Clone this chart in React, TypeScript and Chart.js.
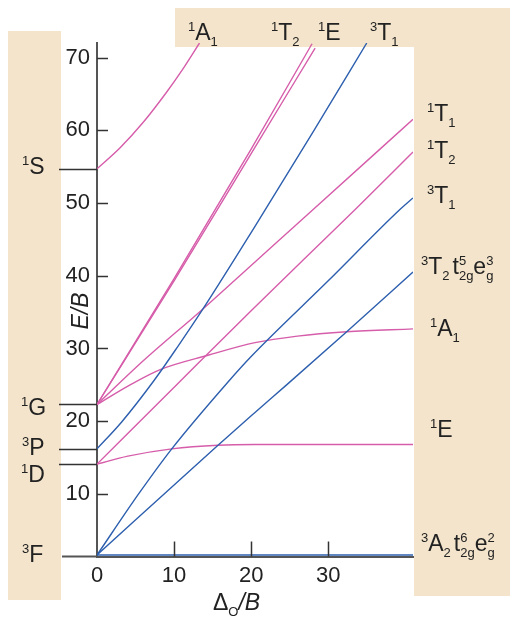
import React, { useEffect, useRef } from 'react';
import { Chart, registerables } from 'chart.js';

Chart.register(...registerables);

const FONT = '"Liberation Sans", Arial, Helvetica, sans-serif';
const PINK = '#D65DAA';
const BLUE = '#2D5FAE';
const BEIGE = '#F3E4CB';
const AXIS = '#555555';
const TEXT = '#222222';

// Axis ticks
const xTicks = [0, 10, 20, 30];
const yTicks = [10, 20, 30, 40, 50, 60, 70];

// Free-ion term energies (E/B) at Δo/B = 0
const termNames = ['1S', '1G', '3P', '1D', '3F'];
const termEnergies = [54.7, 22.3, 16.2, 14.1, 1.6];

// Triplet states (blue)
const t3A2X = [0, 41];
const t3A2Y = [1.6, 1.6];
const t3T2X = [0, 15.7, 20.5, 24.6, 32.4, 41];
const t3T2Y = [1.6, 16.7, 21.2, 25.0, 32.3, 40.5];
const t3T1FX = [0, 5.4, 9.7, 17, 20, 30, 39.3, 41];
const t3T1FY = [1.6, 10, 16.2, 25.4, 28.9, 39.3, 49.1, 50.7];
const t3T1PX = [0, 3.2, 7.4, 10.5, 13.6, 20.5, 28, 35];
const t3T1PY = [16.2, 19.9, 25.6, 30.3, 35.2, 46.8, 59.7, 72];

// Singlet states (pink)
const s1A1SX = [0, 3, 6, 9, 11, 13.3];
const s1A1SY = [54.7, 57.6, 61.1, 65.2, 68.2, 72];
const s1E_DX = [0, 4, 9.7, 15.7, 20.5, 30, 41];
const s1E_DY = [14.1, 15.2, 16.2, 16.7, 16.8, 16.8, 16.8];
const s1T2DX = [0, 10.5, 20, 33.5, 41];
const s1T2DY = [14.1, 25.2, 35.2, 49.1, 57.0];
const s1A1GX = [0, 4.3, 8.2, 14.5, 20.5, 26, 32.4, 41];
const s1A1GY = [22.3, 25.0, 27.1, 29.1, 30.8, 31.7, 32.3, 32.7];
const s1T1GX = [0, 6, 13.6, 20.5, 27.4, 41];
const s1T1GY = [22.3, 28.3, 35.3, 41.9, 48.5, 61.5];
const s1T2GX = [0, 10, 20, 27.9];
const s1T2GY = [22.3, 39.6, 57.4, 71.9];
const s1E_GX = [0, 10, 20, 28.3];
const s1E_GY = [22.3, 39.3, 56.8, 71.3];

type Part = { t: string; k?: 'sup' | 'sub' | 'ss'; s?: string; it?: boolean; gap?: number };

const sup = (t: string): Part => ({ t, k: 'sup' });
const sub = (t: string): Part => ({ t, k: 'sub' });
const n = (t: string): Part => ({ t });
const ss = (t: string, s: string): Part => ({ t, s, k: 'ss' });
const gap = (g: number): Part => ({ t: '', gap: g });

function drawRich(ctx: CanvasRenderingContext2D, x: number, y: number, parts: Part[], size = 23) {
  const small = Math.round(size * 0.56);
  let cx = x;
  ctx.textAlign = 'left';
  ctx.textBaseline = 'alphabetic';
  ctx.fillStyle = TEXT;
  for (const p of parts) {
    if (p.gap) {
      cx += p.gap;
      continue;
    }
    if (!p.k) {
      ctx.font = `${p.it ? 'italic ' : ''}${size}px ${FONT}`;
      ctx.fillText(p.t, cx, y);
      cx += ctx.measureText(p.t).width;
    } else if (p.k === 'sup') {
      ctx.font = `${small}px ${FONT}`;
      ctx.fillText(p.t, cx, y - size * 0.4);
      cx += ctx.measureText(p.t).width;
    } else if (p.k === 'sub') {
      ctx.font = `${small}px ${FONT}`;
      ctx.fillText(p.t, cx, y + size * 0.27);
      cx += ctx.measureText(p.t).width;
    } else {
      ctx.font = `${small}px ${FONT}`;
      ctx.fillText(p.t, cx, y - size * 0.4);
      ctx.fillText(p.s || '', cx, y + size * 0.27);
      cx += Math.max(ctx.measureText(p.t).width, ctx.measureText(p.s || '').width);
    }
  }
}

const leftLabels: { parts: Part[]; x: number; y: number }[] = [
  { parts: [sup('1'), n('S')], x: 22, y: 174 },
  { parts: [sup('1'), n('G')], x: 21, y: 415 },
  { parts: [sup('3'), n('P')], x: 22, y: 455 },
  { parts: [sup('1'), n('D')], x: 21, y: 482 },
  { parts: [sup('3'), n('F')], x: 22, y: 562 },
];

const rightLabels: { parts: Part[]; x: number; y: number }[] = [
  { parts: [sup('1'), n('T'), sub('1')], x: 427, y: 121 },
  { parts: [sup('1'), n('T'), sub('2')], x: 427, y: 158 },
  { parts: [sup('3'), n('T'), sub('1')], x: 427, y: 203 },
  { parts: [sup('3'), n('T'), sub('2'), gap(3), n('t'), ss('5', '2g'), n('e'), ss('3', 'g')], x: 421, y: 274 },
  { parts: [sup('1'), n('A'), sub('1')], x: 430, y: 336 },
  { parts: [sup('1'), n('E')], x: 430, y: 437 },
  { parts: [sup('3'), n('A'), sub('2'), gap(3), n('t'), ss('6', '2g'), n('e'), ss('2', 'g')], x: 421, y: 551 },
];

const topLabels: { parts: Part[]; x: number; y: number }[] = [
  { parts: [sup('1'), n('A'), sub('1')], x: 188, y: 40 },
  { parts: [sup('1'), n('T'), sub('2')], x: 271, y: 40 },
  { parts: [sup('1'), n('E')], x: 318, y: 40 },
  { parts: [sup('3'), n('T'), sub('1')], x: 370, y: 40 },
];

const pts = (xs: number[], ys: number[]) => xs.map((x, i) => ({ x, y: ys[i] }));

const line = (data: { x: number; y: number }[], color: string) => ({
  data,
  borderColor: color,
  borderWidth: 1.4,
  pointRadius: 0,
  fill: false,
  cubicInterpolationMode: 'monotone' as const,
});

const decoPlugin = {
  id: 'deco',
  beforeDraw(chart: any) {
    const ctx: CanvasRenderingContext2D = chart.ctx;
    ctx.save();
    ctx.fillStyle = BEIGE;
    ctx.fillRect(8, 31, 53, 569);
    ctx.fillRect(175, 8, 335, 39);
    ctx.fillRect(414, 8, 96, 588);
    ctx.restore();
  },
  afterDraw(chart: any) {
    const ctx: CanvasRenderingContext2D = chart.ctx;
    const xs = chart.scales.x;
    const ys = chart.scales.y;
    const area = chart.chartArea;
    ctx.save();
    // inward tick marks
    ctx.strokeStyle = '#333';
    ctx.lineWidth = 1.5;
    for (const v of yTicks) {
      const py = Math.round(ys.getPixelForValue(v)) + 0.5;
      ctx.beginPath();
      ctx.moveTo(area.left, py);
      ctx.lineTo(area.left + 11, py);
      ctx.stroke();
    }
    for (const v of xTicks) {
      if (v === 0) continue;
      const px = Math.round(xs.getPixelForValue(v)) + 0.5;
      ctx.beginPath();
      ctx.moveTo(px, area.bottom);
      ctx.lineTo(px, area.bottom - 15);
      ctx.stroke();
    }
    // free-ion term level lines
    termEnergies.forEach((e, i) => {
      if (termNames[i] === '3F') {
        ctx.strokeStyle = AXIS;
        ctx.lineWidth = 2;
        ctx.beginPath();
        ctx.moveTo(62, area.bottom);
        ctx.lineTo(area.left, area.bottom);
        ctx.stroke();
      } else {
        const py = Math.round(ys.getPixelForValue(e)) + 0.5;
        ctx.strokeStyle = '#333';
        ctx.lineWidth = 1.3;
        ctx.beginPath();
        ctx.moveTo(59, py);
        ctx.lineTo(area.left, py);
        ctx.stroke();
      }
    });
    // labels
    [...leftLabels, ...rightLabels, ...topLabels].forEach((l) => drawRich(ctx, l.x, l.y, l.parts));
    // x title
    drawRich(ctx, 213, 610, [n('Δ'), { t: 'O', k: 'sub' }, { t: '/B', it: true }]);
    // y title
    ctx.translate(88, 311);
    ctx.rotate(-Math.PI / 2);
    ctx.font = `italic 23px ${FONT}`;
    ctx.fillStyle = TEXT;
    ctx.textAlign = 'center';
    ctx.textBaseline = 'alphabetic';
    ctx.fillText('E/B', 0, 0);
    ctx.restore();
  },
};

export default function App() {
  const ref = useRef<HTMLCanvasElement>(null);
  useEffect(() => {
    const chart = new Chart(ref.current as HTMLCanvasElement, {
      type: 'line',
      data: {
        datasets: [
          line(pts(t3A2X, t3A2Y), BLUE),
          line(pts(t3T2X, t3T2Y), BLUE),
          line(pts(t3T1FX, t3T1FY), BLUE),
          line(pts(t3T1PX, t3T1PY), BLUE),
          line(pts(s1A1SX, s1A1SY), PINK),
          line(pts(s1E_DX, s1E_DY), PINK),
          line(pts(s1T2DX, s1T2DY), PINK),
          line(pts(s1A1GX, s1A1GY), PINK),
          line(pts(s1T1GX, s1T1GY), PINK),
          line(pts(s1T2GX, s1T2GY), PINK),
          line(pts(s1E_GX, s1E_GY), PINK),
        ],
      },
      options: {
        animation: false,
        responsive: false,
        devicePixelRatio: 1,
        layout: { padding: { left: 57, right: 97, top: 43, bottom: 28.5 } },
        plugins: { legend: { display: false }, tooltip: { enabled: false } },
        scales: {
          x: {
            type: 'linear',
            min: 0,
            max: 41,
            afterBuildTicks: (s: any) => {
              s.ticks = xTicks.map((v) => ({ value: v }));
            },
            afterFit: (s: any) => {
              s.height = 40;
            },
            grid: { display: true, drawOnChartArea: false, drawTicks: false },
            border: { display: true, color: AXIS, width: 2 },
            ticks: { color: TEXT, font: { size: 22, family: FONT }, padding: 6, maxRotation: 0, autoSkip: false },
          },
          y: {
            type: 'linear',
            min: 1.4,
            max: 72,
            afterBuildTicks: (s: any) => {
              s.ticks = yTicks.map((v) => ({ value: v }));
            },
            afterFit: (s: any) => {
              s.width = 40;
            },
            grid: { display: true, drawOnChartArea: false, drawTicks: false },
            border: { display: true, color: AXIS, width: 2 },
            ticks: { color: TEXT, font: { size: 22, family: FONT }, padding: 7, autoSkip: false },
          },
        },
      },
      plugins: [decoPlugin],
    } as any);
    return () => chart.destroy();
  }, []);
  return (
    <div style={{ position: 'absolute', left: 0, top: 0, width: 510, height: 625, background: '#fff' }}>
      <canvas ref={ref} width={510} height={625} style={{ display: 'block', width: 510, height: 625 }} />
    </div>
  );
}
